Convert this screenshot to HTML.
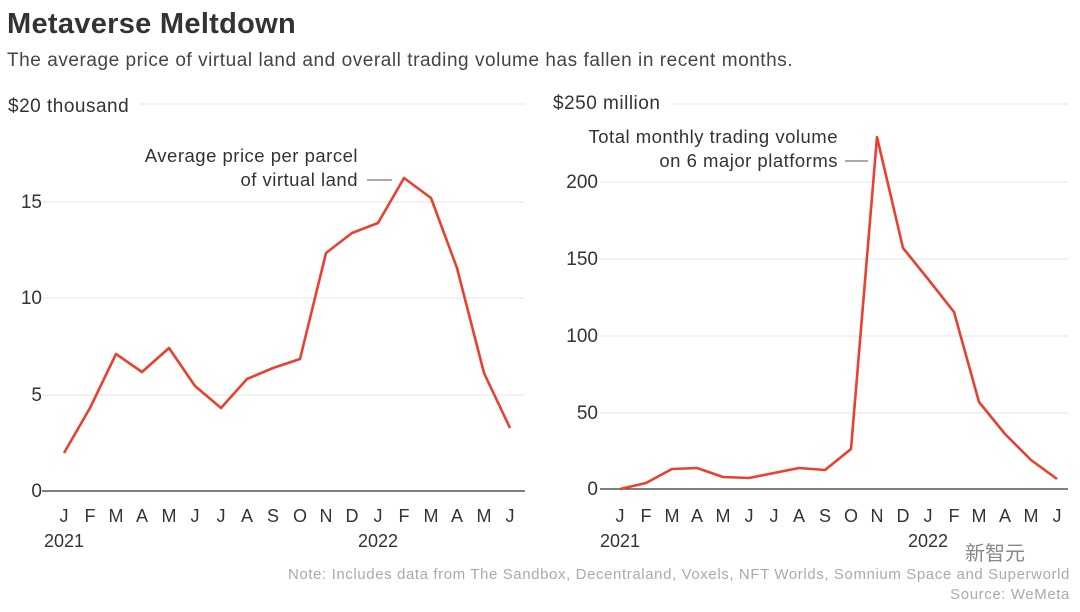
<!DOCTYPE html>
<html><head><meta charset="utf-8"><style>
body{margin:0;background:#fff;width:1080px;height:607px;overflow:hidden;font-family:"Liberation Sans","Noto Sans CJK SC",sans-serif}
</style></head><body>
<svg width="1080" height="607" xmlns="http://www.w3.org/2000/svg" font-family="Liberation Sans, Noto Sans CJK SC, sans-serif">
<text x="7" y="33" font-size="29" font-weight="bold" fill="#333" letter-spacing="0.3">Metaverse Meltdown</text>
<text x="7" y="66" font-size="19" fill="#444" letter-spacing="0.55">The average price of virtual land and overall trading volume has fallen in recent months.</text>
<g stroke="#e6e6e6" stroke-width="1">
<line x1="140" y1="104" x2="525" y2="104"/><line x1="42" y1="202" x2="525" y2="202"/><line x1="42" y1="298" x2="525" y2="298"/><line x1="42" y1="395" x2="525" y2="395"/>
<line x1="670" y1="104" x2="1068" y2="104"/><line x1="600" y1="182" x2="1068" y2="182"/><line x1="600" y1="259" x2="1068" y2="259"/><line x1="600" y1="336" x2="1068" y2="336"/><line x1="600" y1="413" x2="1068" y2="413"/>
</g>
<line x1="42" y1="491" x2="525" y2="491" stroke="#333" stroke-width="1.2"/>
<line x1="600" y1="489" x2="1068" y2="489" stroke="#333" stroke-width="1.2"/>
<g font-size="19" fill="#333" letter-spacing="0.5">
<text x="8" y="112">$20 thousand</text>
<text x="553" y="109">$250 million</text>
</g>
<g font-size="19" fill="#333">
<text x="42" y="208" text-anchor="end">15</text><text x="42" y="304" text-anchor="end">10</text><text x="42" y="401" text-anchor="end">5</text><text x="42" y="497" text-anchor="end">0</text>
<text x="598" y="188" text-anchor="end">200</text><text x="598" y="265" text-anchor="end">150</text><text x="598" y="342" text-anchor="end">100</text><text x="598" y="419" text-anchor="end">50</text><text x="598" y="495" text-anchor="end">0</text>
</g>
<g font-size="18" fill="#333" text-anchor="middle">
<text x="64" y="522">J</text><text x="90" y="522">F</text><text x="116" y="522">M</text><text x="142" y="522">A</text><text x="169" y="522">M</text><text x="195" y="522">J</text><text x="221" y="522">J</text><text x="247" y="522">A</text><text x="273" y="522">S</text><text x="300" y="522">O</text><text x="326" y="522">N</text><text x="352" y="522">D</text><text x="378" y="522">J</text><text x="404" y="522">F</text><text x="431" y="522">M</text><text x="457" y="522">A</text><text x="484" y="522">M</text><text x="510" y="522">J</text>
<text x="64" y="547">2021</text><text x="378" y="547">2022</text>
<text x="620" y="522">J</text><text x="646" y="522">F</text><text x="672" y="522">M</text><text x="697" y="522">A</text><text x="723" y="522">M</text><text x="749" y="522">J</text><text x="774" y="522">J</text><text x="799" y="522">A</text><text x="825" y="522">S</text><text x="851" y="522">O</text><text x="877" y="522">N</text><text x="903" y="522">D</text><text x="928" y="522">J</text><text x="954" y="522">F</text><text x="979" y="522">M</text><text x="1005" y="522">A</text><text x="1031" y="522">M</text><text x="1057" y="522">J</text>
<text x="620" y="547">2021</text><text x="928" y="547">2022</text>
</g>
<g font-size="18.5" fill="#333" text-anchor="end" letter-spacing="0.5">
<text x="358" y="162">Average price per parcel</text>
<text x="358" y="186">of virtual land</text>
<text x="838" y="143">Total monthly trading volume</text>
<text x="838" y="167">on 6 major platforms</text>
</g>
<line x1="367" y1="180" x2="392" y2="180" stroke="#555"/>
<line x1="845" y1="161" x2="868" y2="161" stroke="#555"/>
<polyline fill="none" stroke="#e8412f" stroke-width="2.6" stroke-linejoin="round" points="64,453 90,408 116,354 142,372 169,348 195,386 221,408 247,379 273,368 300,359 326,253 352,233 378,223 404,178 431,198 457,268 484,373 510,428"/>
<polyline fill="none" stroke="#e8412f" stroke-width="2.6" stroke-linejoin="round" points="620,489 646,483 672,469 697,468 723,477 749,478 774,473 799,468 825,470 851,449 877,137 903,248 928,279 954,312 979,402 1005,434 1031,460 1057,479"/>
<text x="1070" y="579" font-size="15" fill="#aaa" text-anchor="end" letter-spacing="0.6">Note: Includes data from The Sandbox, Decentraland, Voxels, NFT Worlds, Somnium Space and Superworld</text>
<text x="1070" y="599" font-size="15" fill="#aaa" text-anchor="end" letter-spacing="0.6">Source: WeMeta</text>
<text x="965" y="560" font-size="20" fill="#888">新智元</text>
</svg>
</body></html>
